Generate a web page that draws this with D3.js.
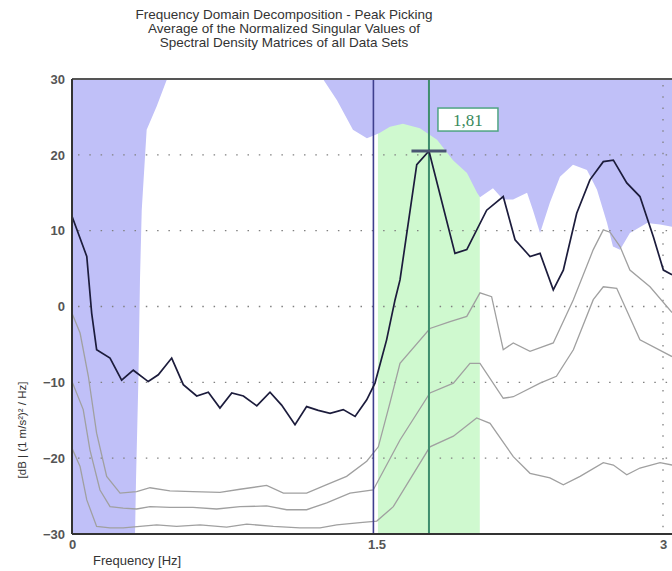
<!DOCTYPE html>
<html><head><meta charset="utf-8">
<script src="https://cdn.jsdelivr.net/npm/d3@7"></script>
<style>body{margin:0;background:#fff}svg{display:block}</style>
</head><body><svg id="c" width="672" height="571"></svg>
<script>
// ---------- data ----------
const titleLines = ["Frequency Domain Decomposition - Peak Picking",
  "Average of the Normalized Singular Values of",
  "Spectral Density Matrices of all Data Sets"];
const xLabel = "Frequency [Hz]";
const yLabel = "[dB | (1 m/s\u00B2)\u00B2 / Hz]";
const xTicks = [0, 1.5, 3];
const xTickLabels = ["0", "1.5", "3"];
const yTicks = [30, 20, 10, 0, -10, -20, -30];
const gridY = [20, 10, 0, -10, -20];
const gridX = [3];

// first singular value (black)
const sv1Freq = [0,0.075,0.100,0.125,0.193,0.252,0.311,0.387,0.438,0.506,0.565,0.633,0.692,0.751,0.811,0.870,0.938,1.005,1.064,1.132,1.191,1.250,1.310,1.377,1.437,1.496,1.538,1.597,1.640,1.665,1.750,1.812,1.944,2.004,2.105,2.189,2.249,2.325,2.376,2.443,2.494,2.562,2.629,2.697,2.748,2.816,2.883,2.951,3.002,3.046];
const sv1Db   = [11.9,6.6,-0.9,-5.7,-6.8,-9.7,-8.4,-9.9,-9.0,-6.8,-10.3,-11.8,-11.3,-13.4,-11.4,-11.8,-13.1,-11.3,-13.0,-15.6,-13.2,-13.7,-14.1,-13.6,-14.5,-12.3,-10.1,-4.4,0.9,3.5,18.7,20.5,7.0,7.5,12.7,14.5,8.8,6.6,7.0,2.2,4.8,12.3,16.7,19.1,19.3,16.3,14.5,9.2,4.8,4.2];

// second singular value (gray)
const sv2Freq = [0,0.041,0.083,0.125,0.176,0.244,0.328,0.396,0.497,0.614,0.751,0.853,0.988,1.073,1.191,1.293,1.394,1.496,1.555,1.614,1.665,1.817,1.919,2.004,2.071,2.130,2.189,2.240,2.325,2.443,2.545,2.646,2.697,2.731,2.782,2.832,2.934,3.046];
const sv2Db   = [-0.9,-3.5,-9.2,-16.7,-22.4,-24.6,-24.4,-23.9,-24.3,-24.4,-24.5,-24.1,-23.6,-24.6,-24.6,-23.5,-22.4,-20.4,-18.5,-12.7,-7.5,-2.9,-2.0,-1.3,1.8,1.3,-5.7,-4.8,-5.9,-4.8,0.9,7.5,10.1,9.8,7.9,4.8,2.6,-0.8];

// third singular value (gray)
const sv3Freq = [0,0.057,0.091,0.142,0.193,0.260,0.328,0.396,0.497,0.614,0.734,0.853,0.988,1.090,1.191,1.293,1.411,1.529,1.665,1.817,1.936,2.020,2.071,2.189,2.240,2.376,2.459,2.545,2.646,2.697,2.765,2.883,3.046];
const sv3Db   = [-9.9,-13.6,-18.9,-24.2,-26.4,-26.6,-26.7,-26.4,-26.5,-26.5,-26.7,-26.4,-26.3,-26.8,-26.8,-25.9,-24.6,-24.2,-17.6,-11.4,-10.1,-7.5,-7.5,-12.1,-11.9,-10.1,-9.2,-5.7,0.9,2.6,2.4,-4.4,-6.6];

// fourth singular value (gray)
const sv4Freq = [0,0.041,0.075,0.125,0.193,0.260,0.345,0.430,0.531,0.650,0.785,0.887,1.022,1.157,1.259,1.344,1.462,1.547,1.631,1.817,1.936,2.054,2.122,2.240,2.325,2.426,2.494,2.579,2.697,2.748,2.816,2.883,2.985,3.046];
const sv4Db   = [-18.7,-21.1,-25.5,-29.0,-29.2,-29.2,-29.0,-28.8,-29.0,-28.8,-29.1,-28.7,-29.0,-29.2,-29.2,-28.8,-28.5,-28.3,-26.4,-18.5,-17.1,-14.7,-15.4,-19.8,-22.0,-22.6,-23.5,-22.4,-20.6,-20.9,-22.2,-21.3,-20.6,-20.9];

// envelope below which the spectrum is shown on white (blue above)
const envFreq = [0,0.320,0.325,0.337,0.345,0.354,0.379,0.430,0.481,1.274,1.345,1.426,1.497,1.538,1.563,1.614,1.680,1.766,1.853,1.934,2.005,2.056,2.071,2.137,2.188,2.239,2.310,2.340,2.376,2.426,2.477,2.543,2.614,2.665,2.716,2.746,2.782,2.832,2.919,2.985,3.046];
const envDb   = [-30,-30,-22.85,-9.67,3.5,12.7,23.3,26.4,29.9,30,27.2,23.3,22.2,22.6,22.9,23.7,24.1,23.5,22.0,19.3,17.6,15.0,14.4,15.6,14.1,14.1,15.0,12.7,9.7,13.7,17.1,18.7,18.0,15.4,11.0,7.9,7.5,9.7,11.0,10.8,10.5];

const bandRange = [1.553, 2.070];   // green peak band
const lowerLine = [1.53];           // navy cursor
const peakFreq = [1.812];
const peakDb = [20.5];
const peakLabel = ["1,81"];

// ---------- drawing ----------
const W = 672, H = 571;
const svg = d3.select("#c");
const x = d3.scaleLinear().domain([0, 3]).range([72, 663]);
const y = d3.scaleLinear().domain([-30, 30]).range([534, 79]);
const pL = 72, pR = 672, pT = 79, pB = 534;
const sans = "Arial, Liberation Sans, sans-serif";

svg.append("rect").attr("width", W).attr("height", H).attr("fill", "#fff");

svg.append("defs").append("clipPath").attr("id", "plot")
  .append("rect").attr("x", pL).attr("y", pT).attr("width", pR - pL).attr("height", pB - pT);

const g = svg.append("g").attr("clip-path", "url(#plot)");

// green band
g.append("rect")
  .attr("x", x(bandRange[0])).attr("width", x(bandRange[1]) - x(bandRange[0]))
  .attr("y", y(30)).attr("height", y(-30) - y(30))
  .attr("fill", "#cff9cf");

// blue mask above envelope
const env = envFreq.map((f, i) => [f, envDb[i]]);
g.append("path").datum(env)
  .attr("d", d3.area().x(d => x(d[0])).y0(y(30)).y1(d => y(d[1])))
  .attr("fill", "#c0c0f8");

// dotted grid
g.selectAll(".gy").data(gridY).enter().append("line")
  .attr("x1", pL + 6).attr("x2", pR).attr("y1", d => y(d)).attr("y2", d => y(d))
  .attr("stroke", "#808080").attr("stroke-width", 1.3).attr("stroke-dasharray", "1.5,9.8");
g.selectAll(".gx").data(gridX).enter().append("line")
  .attr("x1", d => x(d)).attr("x2", d => x(d)).attr("y1", pT + 6).attr("y2", pB)
  .attr("stroke", "#808080").attr("stroke-width", 1.3).attr("stroke-dasharray", "1.5,9.8");

const line = d3.line().x(d => x(d[0])).y(d => y(d[1]));
const grays = [[sv4Freq, sv4Db], [sv3Freq, sv3Db], [sv2Freq, sv2Db]];
grays.forEach(([fs, ds]) => {
  g.append("path").datum(fs.map((f, i) => [f, ds[i]]))
    .attr("d", line).attr("fill", "none").attr("stroke", "#a0a0a0").attr("stroke-width", 1.3);
});

// vertical cursor lines
g.selectAll(".lo").data(lowerLine).enter().append("line")
  .attr("x1", d => x(d)).attr("x2", d => x(d)).attr("y1", pT).attr("y2", pB)
  .attr("stroke", "#3f3f8e").attr("stroke-width", 1.6);
g.selectAll(".pk").data(peakFreq).enter().append("line")
  .attr("x1", d => x(d)).attr("x2", d => x(d)).attr("y1", pT).attr("y2", pB)
  .attr("stroke", "#3f8e6e").attr("stroke-width", 2);

// black curve
g.append("path").datum(sv1Freq.map((f, i) => [f, sv1Db[i]]))
  .attr("d", line).attr("fill", "none").attr("stroke", "#1c1c3c").attr("stroke-width", 1.7);

// peak marker
g.selectAll(".pm").data(peakFreq).enter().append("line")
  .attr("x1", d => x(d) - 17.5).attr("x2", d => x(d) + 17.5)
  .attr("y1", (d, i) => y(peakDb[i])).attr("y2", (d, i) => y(peakDb[i]))
  .attr("stroke", "#4a5672").attr("stroke-width", 3);

// label box
const lb = svg.selectAll(".lb").data(peakFreq).enter().append("g")
  .attr("transform", (d, i) => `translate(${x(d) + 9},${y(peakDb[i]) - 43})`);
lb.append("rect").attr("width", 60).attr("height", 23)
  .attr("fill", "#fff").attr("stroke", "#4fa483").attr("stroke-width", 1.5);
lb.append("text").attr("x", 30).attr("y", 18).attr("text-anchor", "middle")
  .attr("font-family", "Liberation Serif, Times New Roman, serif").attr("font-size", 17)
  .attr("fill", "#3a8a5c").text((d, i) => peakLabel[i]);

// frame: top border, axes
svg.append("line").attr("x1", pL).attr("x2", pR).attr("y1", pT).attr("y2", pT)
  .attr("stroke", "#555").attr("stroke-width", 2);
svg.append("line").attr("x1", pL).attr("x2", pL).attr("y1", pT).attr("y2", pB)
  .attr("stroke", "#333").attr("stroke-width", 2);
svg.append("line").attr("x1", pL).attr("x2", pR).attr("y1", pB).attr("y2", pB)
  .attr("stroke", "#333").attr("stroke-width", 2);

// axes via d3
const yAxis = svg.append("g").attr("transform", `translate(${pL},0)`)
  .call(d3.axisLeft(y).tickValues(yTicks).tickSize(0).tickPadding(7));
yAxis.select(".domain").remove();
yAxis.selectAll("text").attr("font-family", sans)
  .attr("font-size", 13).attr("font-weight", "bold").attr("fill", "#555");

const xAxis = svg.append("g").attr("transform", `translate(0,${pB})`)
  .call(d3.axisBottom(x).tickValues(xTicks).tickFormat((d, i) => xTickLabels[i]).tickSize(0).tickPadding(6));
xAxis.select(".domain").remove();
xAxis.selectAll("text").attr("font-family", sans)
  .attr("font-size", 13).attr("font-weight", "bold").attr("fill", "#555")
  .attr("text-anchor", d => d === 1.5 ? "start" : "middle");

// titles
svg.selectAll(".title").data(titleLines).enter().append("text")
  .attr("x", 284).attr("y", (d, i) => 19 + i * 13.8).attr("text-anchor", "middle")
  .attr("font-family", sans).attr("font-size", 13.5)
  .attr("fill", "#333").text(d => d);

svg.append("text").attr("x", 93).attr("y", 565)
  .attr("font-family", sans).attr("font-size", 13)
  .attr("fill", "#333").text(xLabel);

svg.append("text").attr("transform", "translate(26,430) rotate(-90)").attr("text-anchor", "middle")
  .attr("font-family", sans).attr("font-size", 11.5)
  .attr("fill", "#333").text(yLabel);
</script></body></html>
